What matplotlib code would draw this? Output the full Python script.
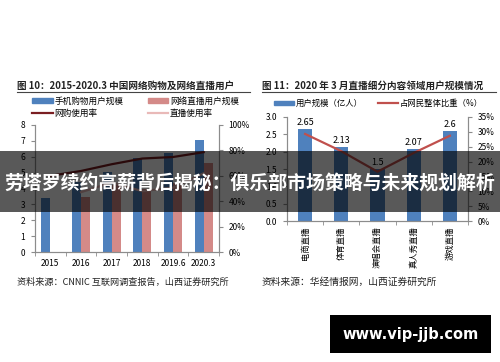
import matplotlib.pyplot as plt
import numpy as np
from matplotlib.patches import Rectangle, Patch
from matplotlib.lines import Line2D
from matplotlib.ticker import FuncFormatter

plt.rcParams['font.family'] = ['Noto Sans CJK SC', 'DejaVu Sans']

# left chart data
years = ['2015', '2016', '2017', '2018', '2019.6', '2020.3']
mobile_shop = [3.40, 4.41, 5.06, 5.92, 6.22, 7.07]
live_users = [np.nan, 3.44, 4.22, 3.97, 4.33, 5.60]
shop_rate = [60.0, 63.8, 69.1, 73.6, 74.8, 78.6]
live_rate = [np.nan, 47.1, 54.7, 47.9, 50.7, 62.0]

# right chart data
segments = ['电商直播', '体育直播', '演唱会直播', '真人秀直播', '游戏直播']
seg_users = [2.65, 2.13, 1.5, 2.07, 2.6]
seg_share = [29.3, 23.5, 16.6, 22.9, 28.7]

W, H = 500, 362
fig = plt.figure(figsize=(W / 100, H / 100), dpi=100)


def box(x0, y0, x1, y1):
    # pixel box (top-left origin) -> figure fraction rect
    return [x0 / W, 1 - y1 / H, (x1 - x0) / W, (y1 - y0) / H]


blue = '#4F81BD'
pink = '#D48A88'
dark_red = '#7A1E22'
light_pink = '#E9B9B8'
red = '#C0504D'
spine_c = '#8C8C8C'
fs = 6

# ---------- left chart ----------
ax1 = fig.add_axes(box(35, 125, 219, 252))
x = np.arange(len(years))
bw = 0.29
ax1.bar(x - bw / 2, mobile_shop, bw, color=blue, zorder=2)
ax1.bar(x + bw / 2, live_users, bw, color=pink, zorder=2)
ax1.set_ylim(0, 8)
ax1.set_xlim(-0.5, len(years) - 0.5)
ax1.set_yticks(range(0, 9))
ax1.set_xticks(x)
ax1.set_xticklabels(years)
ax1.set_xticks(np.arange(-0.5, len(years)), minor=True)
ax1.tick_params(axis='x', which='major', length=0, labelsize=fs, pad=5)
ax1.tick_params(axis='x', which='minor', length=3, color=spine_c, direction='out')
ax1.tick_params(axis='y', length=3, color=spine_c, labelsize=fs, pad=4)
ax1.spines['top'].set_visible(False)
for s in ['left', 'right', 'bottom']:
    ax1.spines[s].set_color(spine_c)
    ax1.spines[s].set_linewidth(0.8)

ax1r = ax1.twinx()
ax1r.plot(x, shop_rate, color=dark_red, lw=1.6, zorder=3)
ax1r.plot(x, live_rate, color=light_pink, lw=1.6, zorder=3)
ax1r.set_ylim(0, 100)
ax1r.set_yticks(range(0, 101, 20))
ax1r.yaxis.set_major_formatter(FuncFormatter(lambda v, p: f'{v:.0f}%'))
ax1r.tick_params(axis='y', length=3, color=spine_c, labelsize=fs, pad=4)
ax1r.spines['top'].set_visible(False)
for s in ['left', 'right', 'bottom']:
    ax1r.spines[s].set_color(spine_c)
    ax1r.spines[s].set_linewidth(0.8)

h1 = [Patch(color=blue), Patch(color=pink),
      Line2D([], [], color=dark_red, lw=1.6), Line2D([], [], color=light_pink, lw=1.6)]
l1 = ['手机购物用户规模', '网络直播用户规模', '网购使用率', '直播使用率']
order = [0, 2, 1, 3]
fig.legend([h1[i] for i in order], [l1[i] for i in order], ncol=2,
           loc='upper left', bbox_to_anchor=(32 / W, 1 - 97 / H), frameon=False,
           fontsize=6.2, handlelength=2.4, handleheight=0.5, handletextpad=0.2,
           columnspacing=2.8, labelspacing=0.35, borderpad=0, borderaxespad=0)

# ---------- right chart ----------
ax2 = fig.add_axes(box(287, 117, 468, 221))
x2 = np.arange(len(segments))
bars = ax2.bar(x2, seg_users, 0.39, color=blue, zorder=2)
ax2.bar_label(bars, labels=[f'{v:g}' for v in seg_users], padding=1.5, fontsize=fs + 0.5)
ax2.set_ylim(0, 3.0)
ax2.set_xlim(-0.5, len(segments) - 0.5)
ax2.set_yticks(np.arange(0, 3.01, 0.5))
ax2.yaxis.set_major_formatter(FuncFormatter(lambda v, p: f'{v:.1f}'))
ax2.set_xticks(x2)
ax2.set_xticklabels(segments, rotation=90, va='top', ha='center')
ax2.set_xticks(np.arange(-0.5, len(segments)), minor=True)
ax2.tick_params(axis='x', which='major', length=0, labelsize=fs, pad=4)
ax2.tick_params(axis='x', which='minor', length=3, color=spine_c)
ax2.tick_params(axis='y', length=3, color=spine_c, labelsize=fs, pad=4)
ax2.spines['top'].set_visible(False)
for s in ['left', 'right', 'bottom']:
    ax2.spines[s].set_color(spine_c)
    ax2.spines[s].set_linewidth(0.8)

ax2r = ax2.twinx()
ax2r.plot(x2, seg_share, color=red, lw=1.6, zorder=3)
ax2r.set_ylim(0, 35)
ax2r.set_yticks(range(0, 36, 5))
ax2r.yaxis.set_major_formatter(FuncFormatter(lambda v, p: f'{v:.0f}%'))
ax2r.tick_params(axis='y', length=3, color=spine_c, labelsize=fs, pad=4)
ax2r.spines['top'].set_visible(False)
for s in ['left', 'right', 'bottom']:
    ax2r.spines[s].set_color(spine_c)
    ax2r.spines[s].set_linewidth(0.8)

fig.legend([Patch(color=blue), Line2D([], [], color=red, lw=1.6)],
           ['用户规模（亿人）', '占网民整体比重（%）'], ncol=2,
           loc='upper left', bbox_to_anchor=(274 / W, 1 - 99 / H), frameon=False,
           fontsize=fs, handlelength=2.4, handleheight=0.5, handletextpad=0.2,
           columnspacing=1.8, borderpad=0, borderaxespad=0)

# ---------- titles, sources and overlays ----------
ov = fig.add_axes([0, 0, 1, 1], zorder=10)
ov.set_xlim(0, W)
ov.set_ylim(H, 0)
ov.axis('off')

ov.text(17, 86, '图 10：2015-2020.3 中国网络购物及网络直播用户', fontsize=6.9,
        fontweight='bold', va='center', ha='left', color='#222222')
ov.plot([17, 250], [92, 92], color='#444444', lw=0.8)
ov.text(262, 86, '图 11：2020 年 3 月直播细分内容领域用户规模情况', fontsize=6.9,
        fontweight='bold', va='center', ha='left', color='#222222')
ov.plot([262, 496], [92, 92], color='#444444', lw=0.8)

ov.text(17, 282, '资料来源：CNNIC 互联网调查报告，山西证券研究所', fontsize=6.6,
        va='center', ha='left', color='#222222')
ov.text(262, 282, '资料来源：华经情报网，山西证券研究所', fontsize=7.0,
        va='center', ha='left', color='#222222')

ov.add_patch(Rectangle((0, 151), W, 61, color='black', alpha=0.65, lw=0))
ov.text(W / 2, 183, '劳塔罗续约高薪背后揭秘：俱乐部市场策略与未来规划解析',
        fontsize=13.6, fontweight='bold', color='white', ha='center', va='center')

ov.add_patch(Rectangle((330, 315), 161, 38, color='black', lw=0))
ov.text(410.5, 334, 'www.vip-jjb.com', fontsize=10.5, fontweight='bold',
        color='white', ha='center', va='center', family='DejaVu Sans')

fig.savefig('out.png', dpi=100)
